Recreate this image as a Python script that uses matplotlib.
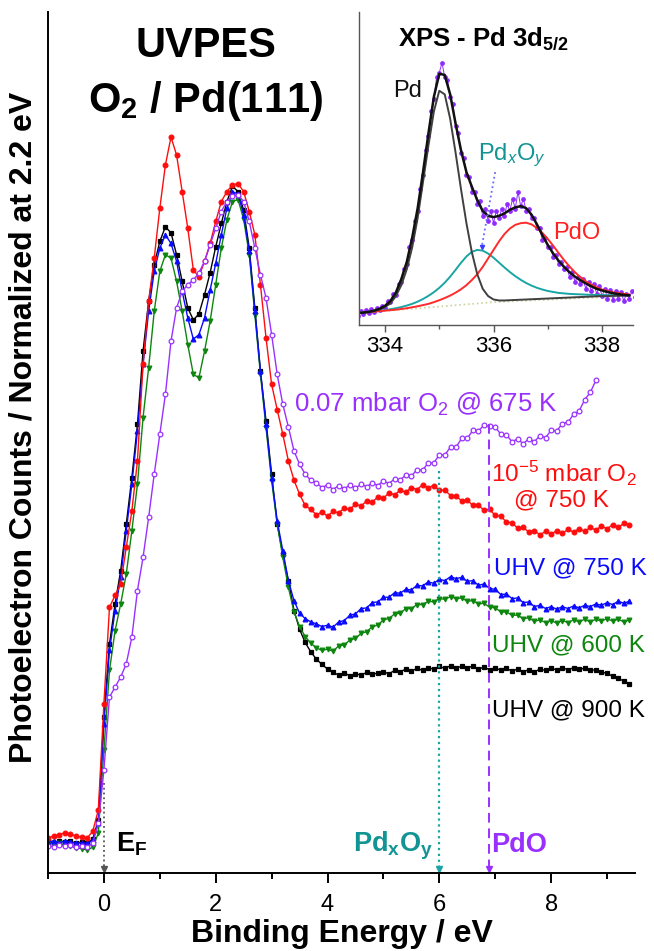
import numpy as np
import matplotlib
matplotlib.use("Agg")
import matplotlib.pyplot as plt
from matplotlib.ticker import MultipleLocator

plt.rcParams['font.family'] = ['Liberation Sans', 'DejaVu Sans']
plt.rcParams['mathtext.fontset'] = 'custom'
plt.rcParams['mathtext.rm'] = 'Liberation Sans'
plt.rcParams['mathtext.it'] = 'Liberation Sans:italic'
plt.rcParams['mathtext.bf'] = 'Liberation Sans:bold'

# ---------------- UVPES valence band spectra (binding energy grid: -1.0 eV, step 0.1 eV)
E_START, E_STEP = -1.0, 0.1

uhv_900 = [0.013, 0.011, 0.014, 0.012, 0.013, 0.010, 0.012, 0.011, 0.016, 0.045,
           0.20, 0.31, 0.37, 0.42, 0.49, 0.56, 0.64, 0.75, 0.825, 0.88,
           0.915, 0.937, 0.928, 0.895, 0.855, 0.815, 0.797, 0.806, 0.835, 0.868,
           0.907, 0.942, 0.975, 0.998, 0.99, 0.962, 0.905, 0.815, 0.72, 0.645,
           0.565, 0.49, 0.445, 0.405, 0.36, 0.332, 0.312, 0.298, 0.287, 0.279,
           0.272, 0.267, 0.263, 0.266, 0.262, 0.265, 0.263, 0.267, 0.264, 0.266,
           0.268, 0.265, 0.27, 0.268, 0.272, 0.269, 0.273, 0.27, 0.274, 0.272,
           0.276, 0.273, 0.277, 0.274, 0.276, 0.273, 0.277, 0.272, 0.275, 0.271,
           0.274, 0.27, 0.273, 0.269, 0.272, 0.268, 0.271, 0.268, 0.272, 0.27,
           0.273, 0.271, 0.274, 0.271, 0.274, 0.272, 0.273, 0.27, 0.271, 0.267,
           0.266, 0.261, 0.258, 0.254, 0.25]

uhv_750 = [0.012, 0.014, 0.011, 0.013, 0.012, 0.010, 0.011, 0.010, 0.015, 0.04,
           0.19, 0.30, 0.36, 0.41, 0.48, 0.55, 0.63, 0.73, 0.81, 0.87,
           0.905, 0.925, 0.912, 0.885, 0.84, 0.80, 0.768, 0.775, 0.80, 0.842,
           0.882, 0.925, 0.965, 0.99, 0.986, 0.955, 0.90, 0.81, 0.72, 0.64,
           0.56, 0.495, 0.45, 0.405, 0.375, 0.356, 0.348, 0.343, 0.34, 0.336,
           0.338, 0.335, 0.343, 0.345, 0.353, 0.355, 0.363, 0.364, 0.372, 0.373,
           0.38, 0.38, 0.387, 0.386, 0.392, 0.391, 0.398, 0.397, 0.403, 0.401,
           0.407, 0.405, 0.411, 0.408, 0.41, 0.404, 0.405, 0.398, 0.40, 0.393,
           0.392, 0.384, 0.385, 0.378, 0.379, 0.372, 0.373, 0.366, 0.368, 0.363,
           0.366, 0.362, 0.366, 0.363, 0.367, 0.364, 0.368, 0.366, 0.37, 0.368,
           0.372, 0.369, 0.374, 0.371, 0.374]

uhv_600 = [0.010, 0.009, 0.010, 0.007, 0.006, 0.003, 0.002, 0.000, 0.004, 0.025,
           0.15, 0.27, 0.33, 0.37, 0.415, 0.48, 0.55, 0.65, 0.725, 0.81,
           0.87, 0.895, 0.89, 0.855, 0.81, 0.76, 0.715, 0.71, 0.75, 0.795,
           0.85, 0.905, 0.948, 0.975, 0.978, 0.948, 0.895, 0.805, 0.715, 0.635,
           0.555, 0.49, 0.44, 0.395, 0.358, 0.336, 0.321, 0.311, 0.304, 0.30,
           0.302, 0.299, 0.307, 0.308, 0.316, 0.318, 0.326, 0.328, 0.336, 0.338,
           0.346, 0.348, 0.355, 0.356, 0.363, 0.363, 0.369, 0.369, 0.374, 0.373,
           0.378, 0.377, 0.381, 0.378, 0.379, 0.374, 0.375, 0.37, 0.371, 0.365,
           0.364, 0.358, 0.358, 0.353, 0.353, 0.348, 0.349, 0.344, 0.346, 0.342,
           0.345, 0.341, 0.345, 0.342, 0.346, 0.343, 0.347, 0.343, 0.347, 0.344,
           0.348, 0.344, 0.347, 0.343, 0.346]

o2_low_750 = [0.018, 0.021, 0.023, 0.026, 0.024, 0.021, 0.019, 0.018, 0.028, 0.06,
              0.22, 0.365, 0.383, 0.40, 0.455, 0.51, 0.585, 0.73, 0.825, 0.89,
              0.965, 1.03, 1.072, 1.045, 0.99, 0.935, 0.872, 0.862, 0.885, 0.912,
              0.945, 0.975, 0.99, 1.0, 1.002, 0.99, 0.96, 0.925, 0.85, 0.77,
              0.70, 0.662, 0.625, 0.585, 0.556, 0.535, 0.518, 0.512, 0.504, 0.508,
              0.502, 0.509, 0.507, 0.514, 0.512, 0.52, 0.517, 0.525, 0.523, 0.531,
              0.529, 0.537, 0.534, 0.541, 0.538, 0.545, 0.542, 0.549, 0.545, 0.548,
              0.541, 0.541, 0.533, 0.532, 0.525, 0.526, 0.518, 0.518, 0.511, 0.512,
              0.503, 0.502, 0.493, 0.492, 0.484, 0.485, 0.478, 0.48, 0.474, 0.479,
              0.475, 0.48, 0.476, 0.482, 0.478, 0.483, 0.479, 0.485, 0.481, 0.487,
              0.483, 0.489, 0.485, 0.491, 0.489]

o2_high_675 = [0.006, 0.005, 0.007, 0.006, 0.008, 0.005, 0.006, 0.005, 0.010, 0.04,
               0.12, 0.23, 0.245, 0.26, 0.28, 0.32, 0.39, 0.44, 0.50, 0.565,
               0.625, 0.685, 0.765, 0.815, 0.84, 0.85, 0.857, 0.868, 0.885, 0.91,
               0.935, 0.96, 0.975, 0.983, 0.985, 0.975, 0.945, 0.905, 0.865, 0.83,
               0.775, 0.715, 0.67, 0.636, 0.60, 0.58, 0.565, 0.556, 0.552, 0.545,
               0.549, 0.542, 0.548, 0.543, 0.549, 0.544, 0.55, 0.546, 0.552, 0.548,
               0.555, 0.551, 0.558, 0.556, 0.564, 0.562, 0.572, 0.571, 0.582, 0.582,
               0.594, 0.594, 0.606, 0.606, 0.619, 0.619, 0.631, 0.63, 0.639, 0.637,
               0.636, 0.625, 0.624, 0.614, 0.618, 0.611, 0.618, 0.614, 0.623, 0.62,
               0.631, 0.63, 0.641, 0.643, 0.655, 0.66, 0.677, 0.688, 0.706]

# reference energies marked on the axis
E_FERMI = 0.0
E_PDXOY = 6.0
E_PDO = 6.88

# ---------------- XPS Pd 3d5/2 (fit grid: 333.5 eV, step 0.1 eV; data grid: 333.5 eV, step 0.05 eV)
XF_START, XF_STEP = 333.5, 0.1
XD_START, XD_STEP = 333.5, 0.05

xps_total = [0.0, 0.002, 0.005, 0.01, 0.018, 0.03, 0.05, 0.085, 0.14, 0.21,
             0.31, 0.43, 0.58, 0.74, 0.89, 0.985, 0.98, 0.90, 0.78, 0.67,
             0.58, 0.52, 0.465, 0.42, 0.40, 0.395, 0.40, 0.41, 0.425, 0.435,
             0.44, 0.432, 0.405, 0.365, 0.32, 0.28, 0.245, 0.215, 0.19, 0.168,
             0.15, 0.135, 0.122, 0.11, 0.10, 0.093, 0.087, 0.082, 0.078, 0.075,
             0.073]
xps_pd = [0.0, 0.002, 0.005, 0.009, 0.015, 0.025, 0.04, 0.07, 0.115, 0.18,
          0.27, 0.39, 0.54, 0.69, 0.83, 0.915, 0.90, 0.80, 0.66, 0.51,
          0.37, 0.25, 0.16, 0.10, 0.07, 0.056, 0.052, 0.052, 0.053, 0.054,
          0.055, 0.056, 0.057, 0.058, 0.059, 0.06, 0.061, 0.062, 0.063, 0.064,
          0.065, 0.066, 0.067, 0.068, 0.069, 0.07, 0.07, 0.071, 0.071, 0.072,
          0.072]
xps_pdxoy = [0.0, 0.002, 0.004, 0.006, 0.009, 0.012, 0.016, 0.02, 0.025, 0.031,
             0.038, 0.047, 0.058, 0.071, 0.086, 0.104, 0.125, 0.15, 0.178, 0.207,
             0.233, 0.252, 0.26, 0.257, 0.245, 0.228, 0.208, 0.188, 0.169, 0.152,
             0.137, 0.124, 0.113, 0.104, 0.097, 0.091, 0.087, 0.083, 0.081, 0.079,
             0.078, 0.077, 0.076, 0.075, 0.075, 0.074, 0.074, 0.074, 0.073, 0.073,
             0.073]
xps_pdo = [0.0, 0.002, 0.004, 0.006, 0.008, 0.01, 0.012, 0.014, 0.017, 0.02,
           0.024, 0.028, 0.033, 0.038, 0.045, 0.053, 0.062, 0.072, 0.084, 0.098,
           0.115, 0.136, 0.16, 0.19, 0.225, 0.26, 0.295, 0.325, 0.348, 0.363,
           0.37, 0.372, 0.365, 0.35, 0.33, 0.305, 0.277, 0.247, 0.218, 0.192,
           0.168, 0.148, 0.131, 0.117, 0.106, 0.097, 0.091, 0.086, 0.082, 0.079,
           0.077]
xps_bg_e = [333.5, 336.0, 338.5]
xps_bg = [0.0, 0.045, 0.07]
xps_data = [-0.01, 0.01, -0.005, 0.012, 0.0, 0.015, 0.005, 0.02, 0.012, 0.03,
            0.02, 0.05, 0.045, 0.08, 0.075, 0.12, 0.13, 0.18, 0.20, 0.27,
            0.30, 0.38, 0.42, 0.51, 0.57, 0.67, 0.73, 0.83, 0.88, 0.97,
            0.99, 1.03, 0.97, 0.96, 0.89, 0.86, 0.77, 0.74, 0.66, 0.64,
            0.57, 0.56, 0.50, 0.50, 0.45, 0.46, 0.40, 0.43, 0.38, 0.42,
            0.37, 0.42, 0.39, 0.43, 0.40, 0.45, 0.42, 0.47, 0.43, 0.50,
            0.44, 0.47, 0.42, 0.43, 0.39, 0.39, 0.35, 0.35, 0.30, 0.31,
            0.27, 0.27, 0.23, 0.24, 0.20, 0.21, 0.18, 0.19, 0.15, 0.17,
            0.13, 0.15, 0.12, 0.14, 0.10, 0.13, 0.09, 0.12, 0.08, 0.11,
            0.07, 0.10, 0.06, 0.095, 0.055, 0.09, 0.06, 0.085, 0.05, 0.08,
            0.06, 0.09, 0.065]


def grid(start, step, vals):
    return start + step * np.arange(len(vals))


C_BLACK = '#000000'
C_BLUE = '#0a0aff'
C_GREEN = '#0d860d'
C_RED = '#ff0d0d'
C_PURPLE = '#9a30ff'
C_TEAL = '#1aa5a5'
C_TEAL_TXT = '#129494'

fig = plt.figure(figsize=(6.54, 9.51), dpi=100)
W, H = 654, 951
ax = fig.add_axes([48 / W, 1 - 873 / H, (635 - 48) / W, (873 - 12) / H])
ax.set_xlim(-1.0, 9.5)
ax.set_ylim(-0.0346, 1.26)

series = [
    (uhv_900, C_BLACK, 's', C_BLACK),
    (uhv_600, C_GREEN, 'v', C_GREEN),
    (uhv_750, C_BLUE, '^', C_BLUE),
    (o2_low_750, C_RED, 'o', C_RED),
    (o2_high_675, C_PURPLE, 'o', 'white'),
]
for vals, col, mk, face in series:
    ax.plot(grid(E_START, E_STEP, vals), vals, color=col, lw=1.0, marker=mk,
            ms=3.4, mfc=face, mec=col, mew=0.9)

ybot = ax.get_ylim()[0]
# reference lines down to the energy axis
ax.plot([E_FERMI, E_FERMI], [0.10, ybot], ls=':', color='#555555', lw=1.3)
ax.plot([E_FERMI], [ybot + 0.006], marker='v', ms=4, color='#555555', clip_on=False)
ax.plot([E_PDXOY, E_PDXOY], [0.57, ybot], ls=':', color=C_TEAL, lw=1.6)
ax.plot([E_PDXOY], [ybot + 0.006], marker='v', ms=5, color=C_TEAL, clip_on=False)
ax.plot([E_PDO, E_PDO], [0.64, ybot], ls=(0, (5, 3)), color=C_PURPLE, lw=1.4)
ax.plot([E_PDO], [ybot + 0.006], marker='v', ms=5, color=C_PURPLE, clip_on=False)

for s in ['top', 'right']:
    ax.spines[s].set_visible(False)
for s in ['left', 'bottom']:
    ax.spines[s].set_linewidth(1.4)
ax.set_yticks([])
ax.xaxis.set_major_locator(MultipleLocator(2))
ax.xaxis.set_minor_locator(MultipleLocator(1))
ax.tick_params(axis='x', which='major', direction='out', length=7, width=1.4,
               labelsize=17, pad=8)
ax.tick_params(axis='x', which='minor', direction='out', length=4, width=1.4)
ax.set_xlabel('Binding Energy / eV', fontsize=23, fontweight='bold', labelpad=2)
fig.text(24 / W, 1 - 427 / H, 'Photoelectron Counts / Normalized at 2.2 eV',
         rotation=90, ha='center', va='center', fontsize=23, fontweight='bold')

# title
fig.text(206 / W, 1 - 57 / H, 'UVPES', ha='center', va='baseline',
         fontsize=30, fontweight='bold')
fig.text(206 / W, 1 - 112 / H, r'$\mathbf{O_2}$ / Pd(111)', ha='center',
         va='baseline', fontsize=30, fontweight='bold')

# curve labels
ax.text(3.40, 0.659, r'0.07 mbar O$_2$ @ 675 K', color=C_PURPLE, fontsize=18.5,
        va='baseline')
lab = dict(fontsize=17.5, va='baseline', clip_on=False)
ax.text(6.93, 0.553, r'10$^{-5}$ mbar O$_2$', color=C_RED, **lab)
ax.text(7.33, 0.516, '@ 750 K', color=C_RED, **lab)
ax.text(6.97, 0.415, 'UHV @ 750 K', color=C_BLUE, **lab)
ax.text(6.95, 0.299, 'UHV @ 600 K', color=C_GREEN, **lab)
ax.text(6.95, 0.2015, 'UHV @ 900 K', color=C_BLACK, **lab)

# energy markers
ax.text(0.21, -0.003, r'$\mathbf{E_F}$', fontsize=19.5, va='baseline', ha='left')
ax.text(5.88, -0.003, r'$\mathbf{Pd_xO_y}$', fontsize=19.5, va='baseline',
        ha='right', color=C_TEAL_TXT)
ax.text(6.93, -0.003, 'PdO', fontsize=19.5, fontweight='bold', va='baseline',
        ha='left', color=C_PURPLE)

# ---------------- XPS inset
ins = fig.add_axes([359 / W, 1 - 325 / H, (633 - 359) / W, (325 - 12) / H])
ins.set_xlim(333.52, 338.57)
ins.set_ylim(-0.049, 1.239)
ins.set_facecolor('white')

xf = grid(XF_START, XF_STEP, xps_total)
ins.plot(xps_bg_e, xps_bg, ls=':', color='#c9d39a', lw=1.2)
ins.plot(grid(XD_START, XD_STEP, xps_data), xps_data, color='#8f2bff', lw=0.7,
         marker='o', ms=2.4, mec='#8f2bff', mfc='#8f2bff')
ins.plot(xf, xps_pdxoy, color=C_TEAL, lw=1.4)
ins.plot(xf, xps_pdo, color='#ff2a2a', lw=1.4)
ins.plot(xf, xps_pd, color='#404040', lw=1.4)
ins.plot(xf, xps_total, color='#111111', lw=1.8)
# leader from the label to the PdxOy component
ins.plot([336.03, 335.78], [0.58, 0.27], ls=':', color='#6a6aff', lw=1.3)
ins.plot([335.78], [0.27], marker='v', ms=3, color='#3a3aff')

for s in ['top', 'right']:
    ins.spines[s].set_visible(False)
for s in ['left', 'bottom']:
    ins.spines[s].set_color('#555555')
    ins.spines[s].set_linewidth(1.0)
ins.set_yticks([])
ins.xaxis.set_major_locator(MultipleLocator(2))
ins.xaxis.set_minor_locator(MultipleLocator(1))
ins.tick_params(axis='x', which='major', direction='out', length=5, width=1.0,
                color='#555555', labelsize=16, pad=3)
ins.tick_params(axis='x', which='minor', direction='out', length=3, width=1.0,
                color='#555555')

ins.text(334.24, 1.099, r'XPS - Pd 3d$_{\mathbf{5/2}}$', fontsize=18.5,
         fontweight='bold', va='baseline')
ins.text(334.15, 0.889, 'Pd', fontsize=17, va='baseline', color='#111111')
ins.text(335.72, 0.63, r'Pd$_x$O$_y$', fontsize=17, va='baseline', color=C_TEAL_TXT)
ins.text(337.10, 0.305, 'PdO', fontsize=17, va='baseline', color='#ff2020')

fig.savefig('out.png', dpi=100)
